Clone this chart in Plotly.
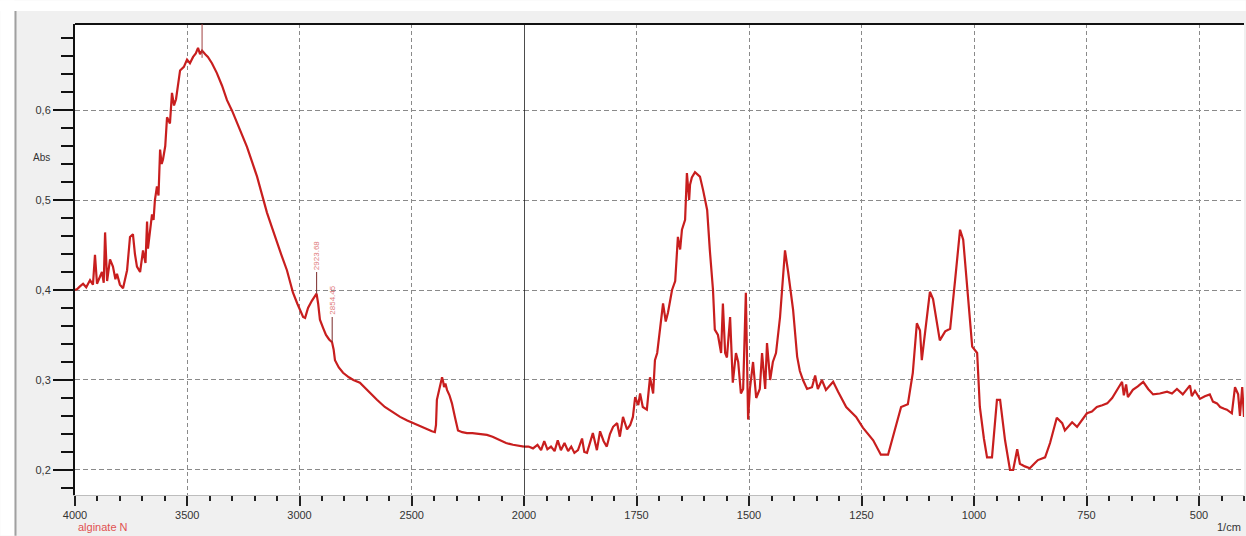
import plotly.graph_objects as go

# ---- data ----
wn_left = [4000, 3990, 3978, 3964, 3950, 3933, 3920, 3911, 3902, 3890, 3880, 3872, 3866, 3857,
           3844, 3831, 3820, 3813, 3800, 3786, 3776, 3768, 3755, 3742, 3733, 3724, 3710, 3697,
           3686, 3679, 3675, 3665, 3657, 3650, 3644, 3635, 3628, 3621, 3614, 3608, 3598, 3590,
           3577, 3568, 3559, 3550, 3532, 3515, 3501, 3488, 3474, 3462, 3452, 3443, 3434, 3420,
           3408, 3390, 3368, 3345, 3323, 3300, 3279, 3256, 3234, 3212, 3189, 3167, 3145, 3122,
           3100, 3078, 3056, 3040, 3029, 3010, 2995, 2984, 2975, 2962, 2945, 2930, 2924, 2917,
           2909, 2895, 2882, 2868, 2855, 2848, 2842, 2825, 2806, 2780, 2760, 2731, 2700, 2680,
           2655, 2620, 2590, 2552, 2520, 2477, 2440, 2410, 2397, 2392, 2388, 2380, 2374, 2365,
           2360, 2356, 2350, 2343, 2332, 2321, 2307, 2294, 2275, 2254, 2230, 2200, 2165, 2140,
           2107, 2080, 2049, 2020, 2000]
abs_left = [0.400, 0.401, 0.404, 0.407, 0.403, 0.411, 0.406, 0.439, 0.407, 0.414, 0.420, 0.408, 0.464, 0.410,
            0.434, 0.426, 0.412, 0.418, 0.406, 0.402, 0.415, 0.422, 0.459, 0.462, 0.440, 0.426, 0.420, 0.444,
            0.430, 0.476, 0.446, 0.470, 0.484, 0.478, 0.500, 0.515, 0.505, 0.556, 0.540, 0.545, 0.560, 0.592,
            0.585, 0.619, 0.605, 0.612, 0.644, 0.648, 0.656, 0.652, 0.659, 0.663, 0.669, 0.662, 0.666, 0.662,
            0.659, 0.652, 0.641, 0.627, 0.611, 0.599, 0.586, 0.573, 0.559, 0.543, 0.526, 0.506, 0.486, 0.469,
            0.452, 0.437, 0.422, 0.408, 0.397, 0.385, 0.376, 0.370, 0.369, 0.380, 0.388, 0.394, 0.396, 0.385,
            0.367, 0.358, 0.350, 0.345, 0.342, 0.334, 0.322, 0.314, 0.308, 0.303, 0.300, 0.297, 0.289, 0.284,
            0.278, 0.270, 0.265, 0.259, 0.255, 0.250, 0.246, 0.243, 0.242, 0.250, 0.278, 0.288, 0.295, 0.303,
            0.298, 0.292, 0.296, 0.289, 0.283, 0.274, 0.258, 0.244, 0.242, 0.241, 0.241, 0.240, 0.239, 0.237,
            0.233, 0.230, 0.228, 0.227, 0.226]

wn_right = [2000, 1990, 1980, 1970, 1962, 1955, 1948, 1940, 1932, 1925, 1918, 1910, 1902, 1895, 1888,
            1880, 1871, 1866, 1860, 1853, 1847, 1838, 1831, 1823, 1816, 1809, 1802, 1793, 1787, 1780,
            1771, 1764, 1758, 1753, 1746, 1742, 1736, 1727, 1720, 1713, 1709, 1704, 1698, 1691, 1685,
            1680, 1671, 1664, 1658, 1653, 1649, 1642, 1638, 1633, 1631, 1627, 1620, 1613, 1609, 1602,
            1593, 1587, 1580, 1576, 1569, 1562, 1558, 1553, 1549, 1542, 1536, 1529, 1524, 1518, 1513,
            1507, 1502, 1498, 1491, 1484, 1476, 1471, 1464, 1460, 1453, 1447, 1440, 1431, 1424, 1420,
            1413, 1402, 1393, 1387, 1380, 1371, 1360, 1353, 1347, 1338, 1329, 1313, 1302, 1284, 1262,
            1247, 1224, 1207, 1191, 1178, 1162, 1147, 1136, 1127, 1120, 1116, 1107, 1098, 1091, 1082,
            1076, 1064, 1053, 1042, 1031, 1024, 1013, 1004, 993, 987, 978, 971, 960, 953, 949,
            942, 931, 920, 913, 904, 898, 887, 876, 864, 858, 842, 831, 816, 804, 798,
            782, 771, 760, 749, 738, 727, 715, 704, 693, 682, 671, 667, 662, 658, 647,
            636, 624, 613, 602, 587, 571, 560, 549, 536, 520, 516, 509, 498, 487, 476,
            469, 460, 453, 444, 438, 427, 420, 413, 409, 404, 400]
abs_right = [0.226, 0.226, 0.224, 0.228, 0.222, 0.232, 0.223, 0.226, 0.221, 0.233, 0.222, 0.230, 0.221, 0.226, 0.219,
             0.222, 0.235, 0.220, 0.219, 0.230, 0.241, 0.222, 0.243, 0.232, 0.226, 0.240, 0.248, 0.252, 0.237, 0.259,
             0.245, 0.250, 0.259, 0.281, 0.272, 0.285, 0.270, 0.267, 0.303, 0.285, 0.322, 0.330, 0.356, 0.385, 0.365,
             0.375, 0.400, 0.410, 0.459, 0.445, 0.467, 0.478, 0.530, 0.500, 0.517, 0.525, 0.531, 0.528, 0.526, 0.511,
             0.489, 0.444, 0.400, 0.356, 0.350, 0.330, 0.385, 0.330, 0.325, 0.370, 0.297, 0.330, 0.320, 0.285, 0.290,
             0.397, 0.256, 0.290, 0.320, 0.280, 0.290, 0.330, 0.290, 0.341, 0.300, 0.320, 0.330, 0.370, 0.420, 0.444,
             0.420, 0.378, 0.326, 0.310, 0.300, 0.290, 0.292, 0.305, 0.290, 0.300, 0.289, 0.298, 0.287, 0.270, 0.259,
             0.247, 0.233, 0.217, 0.217, 0.241, 0.270, 0.273, 0.308, 0.363, 0.355, 0.322, 0.360, 0.398, 0.390, 0.360,
             0.344, 0.354, 0.357, 0.411, 0.467, 0.456, 0.389, 0.337, 0.330, 0.270, 0.235, 0.214, 0.214, 0.255, 0.278,
             0.278, 0.233, 0.200, 0.200, 0.223, 0.207, 0.204, 0.202, 0.208, 0.211, 0.214, 0.230, 0.258, 0.252, 0.244,
             0.253, 0.248, 0.255, 0.263, 0.265, 0.270, 0.272, 0.274, 0.280, 0.289, 0.298, 0.283, 0.295, 0.281, 0.289,
             0.293, 0.298, 0.290, 0.284, 0.285, 0.287, 0.285, 0.290, 0.284, 0.294, 0.282, 0.288, 0.279, 0.282, 0.284,
             0.276, 0.274, 0.270, 0.268, 0.267, 0.263, 0.292, 0.284, 0.260, 0.292, 0.259]

y_ticks = [0.2, 0.3, 0.4, 0.5, 0.6]
y_ticktext = ["0,2", "0,3", "0,4", "0,5", "0,6"]
x_ticks_left = [4000, 3500, 3000, 2500, 2000]
x_ticks_right = [1750, 1500, 1250, 1000, 750, 500]
peak_labels = [(2923.68, 0.396, 0.42), (2854.45, 0.342, 0.37)]
top_peak = (3434, 0.664)

LINE = "#c81e1e"
GRID = "#8a8a8a"
TXT = "#333333"
FONT = "Liberation Sans, Arial, sans-serif"

W, H = 1246, 536
ML, MR, MT, MB = 75, 2, 24, 41
PW, PH = W - ML - MR, H - MT - MB


def px_x(px):
    return (px - ML) / PW


def px_y(py):
    return (H - MB - py) / PH


fig = go.Figure()
fig.add_trace(go.Scatter(x=wn_left, y=abs_left, mode="lines", xaxis="x", yaxis="y",
                         line=dict(color=LINE, width=2.2), showlegend=False))
fig.add_trace(go.Scatter(x=wn_right, y=abs_right, mode="lines", xaxis="x2", yaxis="y2",
                         line=dict(color=LINE, width=2.2), showlegend=False))

split = 449 / PW
yr = [0.1722, 0.6956]
common_x = dict(ticks="outside", ticklen=10, tickwidth=1.5, tickcolor="#222",
                showline=True, linecolor="#bdbdbd", linewidth=1, automargin=False,
                showgrid=True, gridcolor=GRID, griddash="4px,3px", gridwidth=1,
                zeroline=False, tickfont=dict(size=11, color=TXT, family=FONT))

fig.update_layout(
    template="none",
    width=W, height=H, autosize=False,
    margin=dict(l=ML, r=MR, t=MT, b=MB, pad=0, autoexpand=False),
    paper_bgcolor="#f0f0f0", plot_bgcolor="white",
    font=dict(family=FONT, color=TXT),
    xaxis=dict(domain=[0, split], range=[4000, 2000], anchor="y",
               tickmode="array", tickvals=x_ticks_left,
               minor=dict(tickmode="linear", tick0=0, dtick=100, ticks="outside",
                          ticklen=5, tickwidth=1.5, tickcolor="#222", showgrid=False),
               **common_x),
    xaxis2=dict(domain=[split, 1], range=[2000, 400], anchor="y2",
                tickmode="array", tickvals=x_ticks_right,
                minor=dict(tickmode="linear", tick0=0, dtick=50, ticks="outside",
                           ticklen=5, tickwidth=1.5, tickcolor="#222", showgrid=False),
                **common_x),
    yaxis=dict(range=yr, anchor="x", tickmode="array", tickvals=y_ticks, ticktext=y_ticktext,
               ticks="outside", ticklen=20, tickwidth=2, tickcolor="#111", automargin=False,
               minor=dict(tickmode="linear", tick0=0, dtick=0.02, ticks="outside",
                          ticklen=12, tickwidth=2, tickcolor="#111", showgrid=False),
               showline=True, linecolor="#111", linewidth=2,
               showgrid=True, gridcolor=GRID, griddash="5px,3px", gridwidth=1,
               zeroline=False, tickfont=dict(size=11, color=TXT, family=FONT)),
    yaxis2=dict(range=yr, anchor="x2", matches="y", tickmode="array", tickvals=y_ticks,
                showticklabels=False, ticks="", showline=False, automargin=False,
                showgrid=True, gridcolor=GRID, griddash="5px,3px", gridwidth=1, zeroline=False),
)

x_left_edge = px_x(0.2)
x_right_edge = px_x(W - 0.2)
y_top_edge = px_y(0.2)
y_bot_edge = px_y(H - 0.2)
shapes = [
    dict(type="rect", xref="paper", yref="paper", x0=x_left_edge, x1=x_right_edge,
         y0=px_y(11), y1=y_top_edge, fillcolor="white", line=dict(width=0), layer="below"),
    dict(type="rect", xref="paper", yref="paper", x0=x_left_edge, x1=px_x(14.5),
         y0=y_bot_edge, y1=y_top_edge, fillcolor="white", line=dict(width=0), layer="below"),
    dict(type="line", xref="paper", yref="paper", x0=px_x(15.5), x1=px_x(15.5),
         y0=y_bot_edge, y1=px_y(11), line=dict(color="#a0a0a0", width=2)),
    dict(type="line", xref="paper", yref="paper", x0=0, x1=1, y0=1, y1=1,
         line=dict(color="#111", width=2)),
    dict(type="line", xref="x2", yref="paper", x0=2000, x1=2000, y0=0, y1=1,
         line=dict(color="#111", width=1.5)),
    dict(type="line", xref="x", yref="y", x0=top_peak[0], x1=top_peak[0], y0=top_peak[1] - 0.006, y1=yr[1],
         line=dict(color="#a04040", width=1)),
]
annotations = [
    dict(text="Abs", xref="paper", yref="paper", x=px_x(41), y=px_y(157),
         xanchor="center", yanchor="middle", showarrow=False,
         font=dict(size=10, color=TXT, family=FONT)),
    dict(text="alginate N", xref="paper", yref="paper", x=px_x(76), y=px_y(527),
         xanchor="left", yanchor="middle",
         showarrow=False, font=dict(size=11, color="#e05050", family=FONT)),
    dict(text="1/cm", xref="paper", yref="paper", x=px_x(1243), y=px_y(527),
         xanchor="right", yanchor="middle",
         showarrow=False, font=dict(size=11, color=TXT, family=FONT)),
]
for wn, a0, a1 in peak_labels:
    shapes.append(dict(type="line", xref="x", yref="y", x0=wn, x1=wn, y0=a0, y1=a1,
                       line=dict(color="#7a2a2a", width=1)))
    annotations.append(dict(text=f"{wn:.2f}", xref="x", yref="y", x=wn, y=a1, textangle=-90,
                            xanchor="center", yanchor="bottom", showarrow=False,
                            font=dict(size=8, color="#e07a7a", family=FONT)))
fig.update_layout(shapes=shapes, annotations=annotations)

fig.write_html("out.html")
